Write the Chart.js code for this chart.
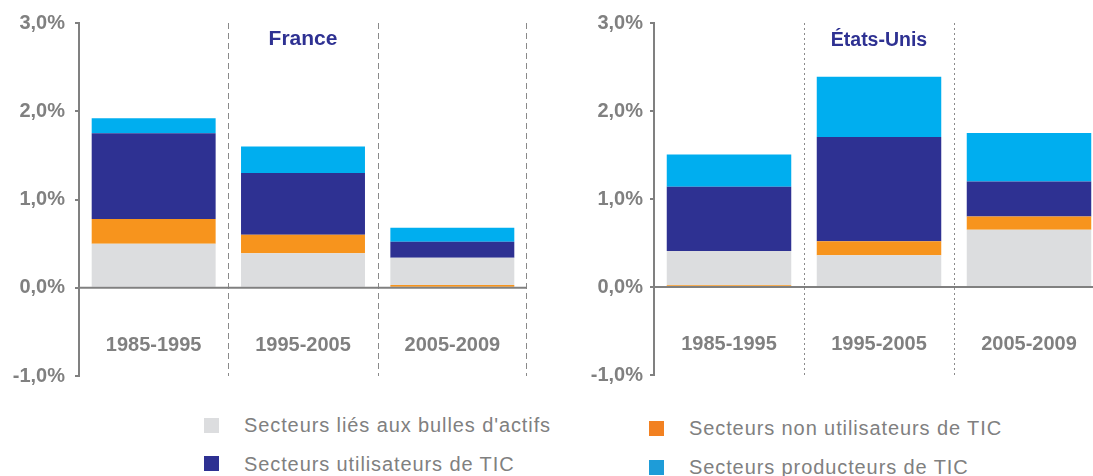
<!DOCTYPE html>
<html>
<head>
<meta charset="utf-8">
<script src="https://cdn.jsdelivr.net/npm/chart.js@4/dist/chart.umd.min.js"></script>
<style>
    body { margin: 0; background: #fff; width: 1093px; height: 476px; overflow: hidden; position: relative; font-family: "Liberation Sans", Arial, sans-serif; }
    canvas { position: absolute; top: 0; }
    #chartFR { left: 0; }
    #chartUS { left: 560px; }
    .leg-box { position: absolute; width: 15px; height: 15px; }
    .leg-text { position: absolute; font-size: 20px; letter-spacing: 0.9px; color: #808080; white-space: nowrap; line-height: 20px; }
</style>
</head>
<body>
<canvas id="chartFR" width="560" height="400"></canvas>
<canvas id="chartUS" width="560" height="400"></canvas>

<div class="leg-box" style="left:204px; top:418px; background:#dcdddf"></div>
<div class="leg-text" style="left:244px; top:415px">Secteurs liés aux bulles d'actifs</div>
<div class="leg-box" style="left:204px; top:456px; background:#2e3192"></div>
<div class="leg-text" style="left:244px; top:454px">Secteurs utilisateurs de TIC</div>
<div class="leg-box" style="left:649px; top:421px; background:#f28121"></div>
<div class="leg-text" style="left:689px; top:418px">Secteurs non utilisateurs de TIC</div>
<div class="leg-box" style="left:649px; top:460px; background:#1e9cd8"></div>
<div class="leg-text" style="left:689px; top:457px">Secteurs producteurs de TIC</div>

<script>
// Periods and axis
const periods = ['1985-1995', '1995-2005', '2005-2009'];
const yTickValues = [-1, 0, 1, 2, 3];

// France (contributions, % per year)
const bullesFR = [0.50, 0.39, 0.31];
const nonUtilFR = [0.28, 0.21, 0.03];
const utilFR = [0.97, 0.70, 0.18];
const prodFR = [0.17, 0.30, 0.16];

// Etats-Unis
const bullesUS = [0.39, 0.36, 0.65];
const nonUtilUS = [0.02, 0.16, 0.15];
const utilUS = [0.73, 1.185, 0.40];
const prodUS = [0.365, 0.685, 0.55];

const colors = {
    bulles: '#dcdddf',
    nonUtil: '#f7941d',
    util: '#2e3192',
    prod: '#00aeef'
};
const axisGray = '#808080';

function fmtPct(v) {
    return v.toFixed(1).replace('.', ',') + '%';
}

// very small orange contributions sit under the grey block in the source chart
function buildDatasets(bulles, nonUtil, util, prod) {
    const bar = { borderWidth: 0, barPercentage: 0.83, categoryPercentage: 1.0 };
    return [
        Object.assign({ label: 'nonUtilLow', data: nonUtil.map(v => v < 0.05 ? v : null), backgroundColor: colors.nonUtil }, bar),
        Object.assign({ label: 'Secteurs liés aux bulles d\'actifs', data: bulles, backgroundColor: colors.bulles }, bar),
        Object.assign({ label: 'Secteurs non utilisateurs de TIC', data: nonUtil.map(v => v >= 0.05 ? v : null), backgroundColor: colors.nonUtil }, bar),
        Object.assign({ label: 'Secteurs utilisateurs de TIC', data: util, backgroundColor: colors.util }, bar),
        Object.assign({ label: 'Secteurs producteurs de TIC', data: prod, backgroundColor: colors.prod }, bar)
    ];
}

// separators, zero line, title and period labels
const decorPlugin = {
    id: 'decor',
    beforeDatasetsDraw(chart, args, opts) {
        const ctx = chart.ctx;
        const xs = chart.scales.x;
        const area = chart.chartArea;
        ctx.save();
        ctx.strokeStyle = opts.sepColor;
        ctx.lineWidth = 1;
        ctx.setLineDash(opts.dash);
        const n = periods.length;
        for (let i = 0; i < n; i++) {
            if (i === n - 1 && !opts.rightEdge) continue;
            const x = i < n - 1
                ? Math.round((xs.getPixelForValue(i) + xs.getPixelForValue(i + 1)) / 2) + 0.5
                : Math.round(area.right) - 0.5;
            ctx.beginPath();
            ctx.moveTo(x, area.top);
            ctx.lineTo(x, area.bottom);
            ctx.stroke();
        }
        ctx.restore();
    },
    afterDatasetsDraw(chart, args, opts) {
        const ctx = chart.ctx;
        const xs = chart.scales.x;
        const ys = chart.scales.y;
        const area = chart.chartArea;
        ctx.save();
        // zero line
        const y0 = ys.getPixelForValue(0);
        ctx.strokeStyle = axisGray;
        ctx.lineWidth = 2;
        ctx.beginPath();
        ctx.moveTo(area.left, y0);
        ctx.lineTo(area.right, y0);
        ctx.stroke();

        // period labels
        ctx.fillStyle = axisGray;
        ctx.font = 'bold 20px "Liberation Sans", Arial, sans-serif';
        ctx.textAlign = 'center';
        ctx.textBaseline = 'middle';
        periods.forEach((p, i) => {
            ctx.fillText(p, xs.getPixelForValue(i), ys.getPixelForValue(-0.65));
        });

        // country title
        ctx.fillStyle = '#2e3192';
        ctx.font = 'bold ' + opts.titleSize + 'px "Liberation Sans", Arial, sans-serif';
        ctx.fillText(opts.title, xs.getPixelForValue(1), area.top + opts.titleOffset);
        ctx.restore();
    }
};

function makeChart(canvasId, datasets, cfg) {
    const ctx = document.getElementById(canvasId).getContext('2d');
    return new Chart(ctx, {
        type: 'bar',
        data: { labels: periods, datasets: datasets },
        plugins: [decorPlugin],
        options: {
            responsive: false,
            animation: false,
            devicePixelRatio: 1,
            layout: { padding: cfg.padding },
            plugins: {
                legend: { display: false },
                tooltip: { enabled: false },
                decor: cfg.decor
            },
            scales: {
                x: {
                    stacked: true,
                    display: false
                },
                y: {
                    stacked: true,
                    min: -1,
                    max: 3,
                    afterBuildTicks: scale => { scale.ticks = yTickValues.map(v => ({ value: v })); },
                    afterFit: scale => { scale.width = cfg.axisWidth; },
                    ticks: {
                        color: axisGray,
                        padding: cfg.tickPadding,
                        font: { family: '"Liberation Sans", Arial, sans-serif', size: 20, weight: 'bold' },
                        callback: v => fmtPct(v)
                    },
                    grid: {
                        drawOnChartArea: false,
                        drawTicks: true,
                        tickLength: 4,
                        tickColor: axisGray,
                        lineWidth: 2
                    },
                    border: { display: true, color: axisGray, width: 2 }
                }
            }
        }
    });
}

makeChart('chartFR', buildDatasets(bullesFR, nonUtilFR, utilFR, prodFR), {
    padding: { top: 23, bottom: 24, left: 0, right: 33 },
    axisWidth: 79,
    tickPadding: 10,
    decor: { title: 'France', titleSize: 21, titleOffset: 16, sepColor: '#8a8a8a', dash: [6, 4], rightEdge: true }
});

makeChart('chartUS', buildDatasets(bullesUS, nonUtilUS, utilUS, prodUS), {
    padding: { top: 23, bottom: 25, left: 0, right: 16 },
    axisWidth: 94,
    tickPadding: 7,
    decor: { title: 'États-Unis', titleSize: 19.5, titleOffset: 18, sepColor: '#8a8a8a', dash: [2, 3], rightEdge: false }
});
</script>
</body>
</html>
